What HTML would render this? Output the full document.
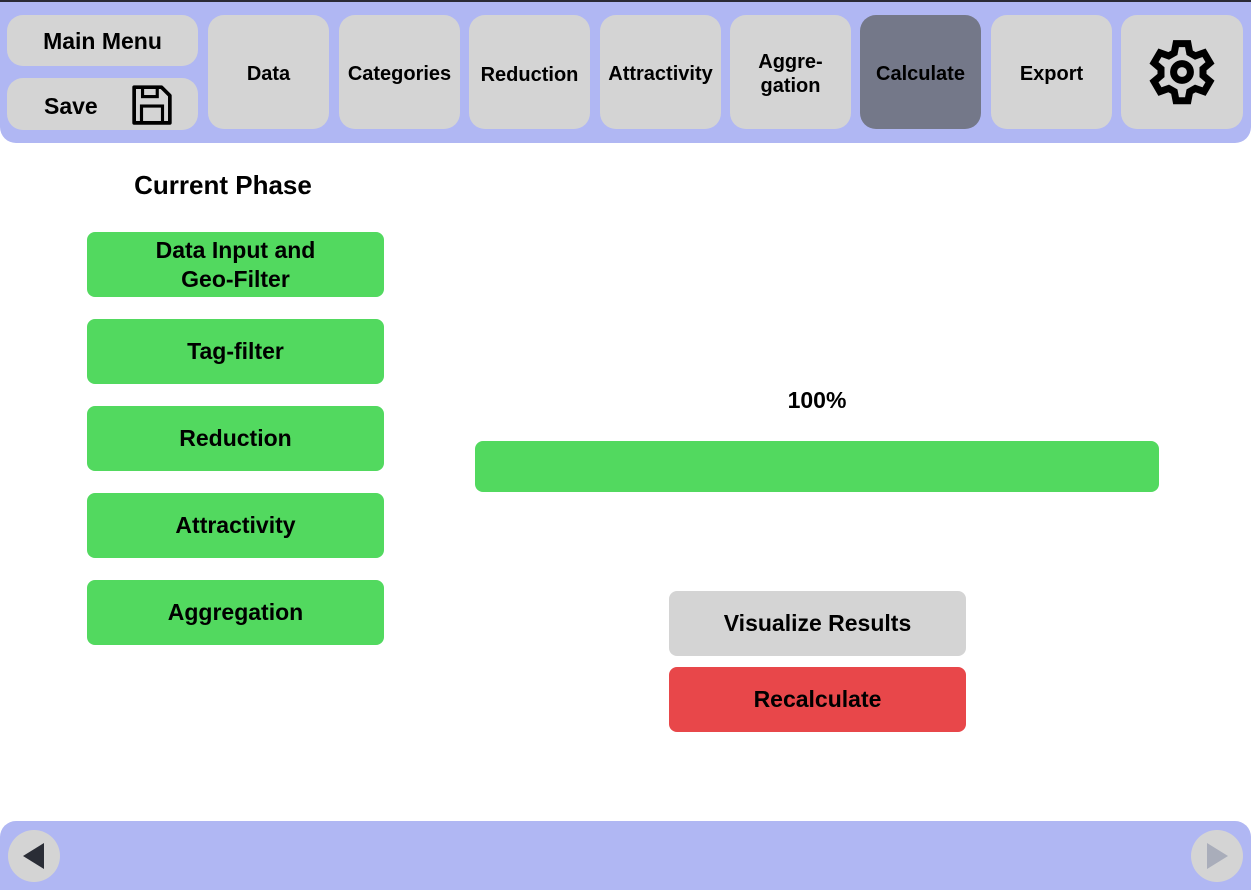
<!DOCTYPE html>
<html><head><meta charset="utf-8"><style>
*{margin:0;padding:0;box-sizing:border-box}
body{width:1251px;height:890px;background:#fff;position:relative;overflow:hidden;font-family:"Liberation Sans",Arial,sans-serif;font-weight:bold;color:#000}
.a{position:absolute;display:flex;align-items:center;justify-content:center;text-align:center}
.top{position:absolute;left:0;top:0;width:1251px;height:143px;background:#b0b7f3;border-radius:0 0 16px 16px;border-top:2px solid #2a2a35}
.nb{background:#d4d4d4;border-radius:16px;font-size:20px;line-height:24px;padding-top:3px}
.g{background:#52d95f;border-radius:8px;font-size:23px;line-height:29px;left:87px;width:297px;height:65px}
.bot{position:absolute;left:0;top:821px;width:1251px;height:69px;background:#b0b7f3;border-radius:16px 16px 0 0}
</style></head><body>
<div class="top"></div>
<div class="a nb" style="left:7px;top:15px;width:191px;height:51px;font-size:23px;padding-top:0">Main Menu</div>
<div class="a nb" style="left:7px;top:78px;width:191px;height:52px;font-size:23px;justify-content:flex-start;padding-left:37px">Save
<svg style="position:absolute;left:124px;top:6px" width="42" height="42" viewBox="0 0 40 40"><path d="M3 3h26l8 8v26H3z" fill="none" stroke="#000" stroke-width="3.5" stroke-linejoin="round"/><rect x="11" y="3" width="14" height="9" fill="none" stroke="#000" stroke-width="3"/><rect x="10" y="21" width="20" height="16" fill="none" stroke="#000" stroke-width="3"/></svg></div>
<div class="a nb" style="left:208px;top:15px;width:121px;height:114px">Data</div>
<div class="a nb" style="left:339px;top:15px;width:121px;height:114px">Categories</div>
<div class="a nb" style="left:469px;top:15px;width:121px;height:114px;padding-top:6px">Reduction</div>
<div class="a nb" style="left:600px;top:15px;width:121px;height:114px">Attractivity</div>
<div class="a nb" style="left:730px;top:15px;width:121px;height:114px">Aggre-<br>gation</div>
<div class="a nb" style="left:860px;top:15px;width:121px;height:114px;background:#747889">Calculate</div>
<div class="a nb" style="left:991px;top:15px;width:121px;height:114px">Export</div>
<div class="a nb" style="left:1121px;top:15px;width:122px;height:114px;padding-top:0">
<svg width="84" height="84" viewBox="0 0 24 24"><path fill="none" stroke="#000" stroke-width="2" stroke-linejoin="miter" d="M10.3 2.5h3.4l.5 2.6 1.6.9 2.5-.9 1.7 2.9-2 1.7v1.9l2 1.7-1.7 2.9-2.5-.9-1.6.9-.5 2.6h-3.4l-.5-2.6-1.6-.9-2.5.9-1.7-2.9 2-1.7v-1.9l-2-1.7 1.7-2.9 2.5.9 1.6-.9z" transform="translate(0 1.4)"/><circle cx="12" cy="12" r="2.4" fill="none" stroke="#000" stroke-width="2"/></svg></div>
<div class="a" style="left:87px;top:168px;width:272px;height:34px;font-size:26px">Current Phase</div>
<div class="a g" style="top:232px">Data Input and<br>Geo-Filter</div>
<div class="a g" style="top:319px">Tag-filter</div>
<div class="a g" style="top:406px">Reduction</div>
<div class="a g" style="top:493px">Attractivity</div>
<div class="a g" style="top:580px">Aggregation</div>
<div class="a" style="left:717px;top:385px;width:200px;height:30px;font-size:23px">100%</div>
<div style="position:absolute;left:475px;top:441px;width:684px;height:51px;background:#52d95f;border-radius:8px"></div>
<div class="a" style="left:669px;top:591px;width:297px;height:65px;background:#d4d4d4;border-radius:8px;font-size:23px">Visualize Results</div>
<div class="a" style="left:669px;top:667px;width:297px;height:65px;background:#e8474a;border-radius:8px;font-size:23px">Recalculate</div>
<div class="bot"></div>
<div class="a" style="left:8px;top:830px;width:52px;height:52px;background:#d4d4d4;border-radius:26px">
<svg width="30" height="30" viewBox="0 0 30 30"><path d="M25 2v26L4 15z" fill="#2a2d36"/></svg></div>
<div class="a" style="left:1191px;top:830px;width:52px;height:52px;background:#d4d4d4;border-radius:26px">
<svg width="30" height="30" viewBox="0 0 30 30"><path d="M5 2v26l21-13z" fill="#a9adba"/></svg></div>
</body></html>
